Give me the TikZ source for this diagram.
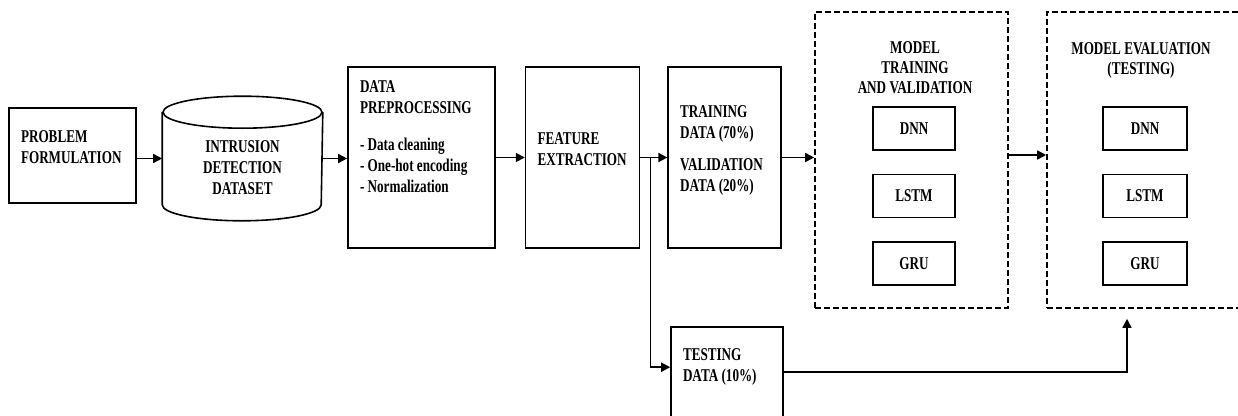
\documentclass[tikz,border=0pt]{standalone}
\usepackage{fontspec}
\setmainfont{Liberation Serif}[FakeStretch=0.73]
\usetikzlibrary{arrows.meta,positioning,calc}

% text block pinned to the top of a box
\newcommand{\boxtxt}[4]{\parbox[c][#2][t]{#1}{\hyphenpenalty=10000 \exhyphenpenalty=10000
  \vspace*{#3}\raggedright #4}}

\begin{document}
\begin{tikzpicture}[
  x=1pt, y=-1pt,
  node distance=23pt,
  font=\fontsize{18}{21}\selectfont\bfseries,
  box/.style={draw, line width=1.6pt, inner xsep=12pt, inner ysep=0pt},
  model/.style={draw, line width=1.6pt, minimum width=82pt, minimum height=43pt, inner sep=0pt},
  group/.style={draw, dash pattern=on 6pt off 3pt, line width=1.6pt, inner sep=0pt,
                minimum height=296pt},
  title/.style={inner sep=0pt, align=center, font=\fontsize{18}{20}\selectfont\bfseries},
  flow/.style={->, line width=1.6pt},
  >={Triangle[length=9pt, width=9pt]}
]
\useasboundingbox (0,0) rectangle (1238,415);

\node[box] (prob) at (72.5,155.5) {\boxtxt{103pt}{95pt}{23pt}{PROBLEM\\FORMULATION}};
\node[box, draw=none] (data) at (242.5,158.5)
  {\boxtxt{135pt}{123pt}{44pt}{\centering INTRUSION\\DETECTION\\DATASET}};
\node[box] (dp) at (421.5,157.5)
  {\boxtxt{123pt}{181pt}{14pt}{DATA\\PREPROCESSING\\[16pt]- Data cleaning\\- One-hot encoding\\- Normalization}};
\node[box, right=29pt of dp] (fe) {\boxtxt{90pt}{181pt}{66pt}{FEATURE\\EXTRACTION}};
\node[box, right=27pt of fe] (train)
  {\boxtxt{89pt}{181pt}{39pt}{TRAINING\\DATA (70\%)\\[11pt]VALIDATION\\DATA (20\%)}};
\node[box] (test) at (727,382) {\boxtxt{88pt}{110pt}{22pt}{TESTING\\DATA (10\%)}};

% cylinder round the dataset
\draw[line width=1.6pt] ($(data.north)+(0,16)$) ellipse [x radius=79.5pt, y radius=16pt];
\draw[line width=1.6pt] ($(data.north west)+(0,16)$) -- ($(data.south west)+(0,-16)$)
  arc [start angle=180, end angle=360, x radius=79.5pt, y radius=16pt]
  -- ($(data.north east)+(0,16)$);

% training and validation
\node[group, minimum width=193pt] (trainbox) at (911.5,160) {};
\node[title] (trainttl) at (915,67.5) {MODEL\\TRAINING\\AND VALIDATION};
\node[model] (dnn1) at (914,128.5) {DNN};
\node[model, below=of dnn1] (lstm1) {LSTM};
\node[model, below=of lstm1] (gru1) {GRU};

% evaluation
\node[group, minimum width=195pt] (evalbox) at (1144.5,160) {};
\node[title] (evalttl) at (1141,60) {MODEL EVALUATION\\(TESTING)};
\node[model, minimum width=84pt] (dnn2) at (1145,128.5) {DNN};
\node[model, minimum width=84pt, below=of dnn2] (lstm2) {LSTM};
\node[model, minimum width=84pt, below=of lstm2] (gru2) {GRU};

\coordinate (split) at ($(fe.east)+(10,0)$);

\draw[flow] (prob.east |- data.west) -- (data.west);
\draw[flow] (data.east) -- (data.east -| dp.west);
\draw[flow] (dp) -- (fe);
\draw[flow] (fe) -- (train);
\draw[flow] (split) |- ($(test.north west)+(0,41)$);
\draw[flow] (train.east) -- (train.east -| trainbox.west);
\draw[flow] ($(trainbox.east)+(0,-5)$) -- ($(evalbox.west)+(0,-5)$);
\draw[flow, shorten >=10pt] ($(test.north east)+(0,46)$) -| ($(evalbox.south)+(-17.5,0)$);
\end{tikzpicture}
\end{document}
